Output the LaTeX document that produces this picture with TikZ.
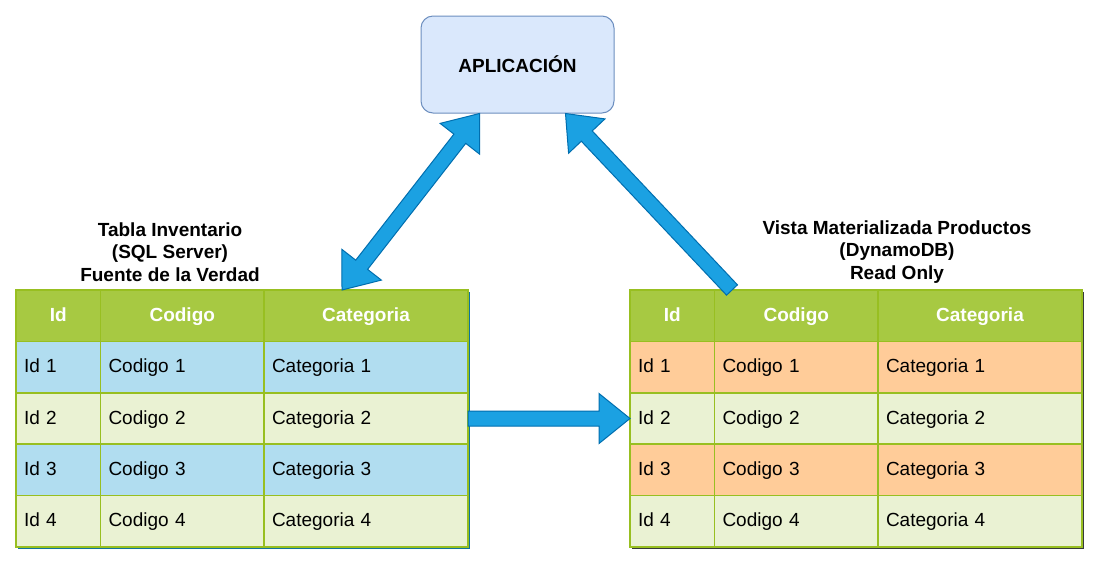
\documentclass[tikz,border=0pt]{standalone}
\usepackage{fontspec}
\setmainfont{Liberation Sans}
\usetikzlibrary{calc}
\definecolor{hdrgreen}{HTML}{A7C942}
\definecolor{brdgreen}{HTML}{98BF21}
\definecolor{lgreen}{HTML}{EAF2D3}
\definecolor{lblue}{HTML}{B1DDF0}
\definecolor{lorange}{HTML}{FFCC99}
\definecolor{shblue}{HTML}{10739E}
\definecolor{shgray}{HTML}{36393D}
\definecolor{appfill}{HTML}{DAE8FC}
\definecolor{appdraw}{HTML}{6C8EBF}
\definecolor{arrfill}{HTML}{1BA1E2}
\definecolor{arrdraw}{HTML}{006EAF}
\tikzset{
  txt/.style={font=\fontsize{19}{22.5}\selectfont},
  cellbox/.style={txt, rectangle, draw=brdgreen, line width=1.5pt, inner ysep=0pt, outer sep=0pt, anchor=north west, minimum height=51.4, text height=14pt, text depth=3pt},
  hdr/.style={cellbox, fill=hdrgreen, text=white, font=\fontsize{19}{22.5}\selectfont\bfseries, align=center, inner xsep=0pt},
  row/.style={cellbox, inner xsep=8pt, align=left},
  lbl/.style={font=\fontsize{19}{22.5}\selectfont\bfseries, align=center, inner sep=0pt},
  app/.style={txt, font=\fontsize{19}{22.5}\selectfont\bfseries, rectangle, rounded corners=12pt, fill=appfill, draw=appdraw, line width=1pt, minimum width=193, minimum height=97},
  barrow/.style={fill=arrfill, draw=arrdraw, line width=1pt, line join=miter},
}
% #1 prefix, #2 x0, #3 odd row colour, #4 shadow colour
\newcommand{\mkTable}[4]{%
  \fill[#4] ($(#2,290)+(2,2)$) rectangle ($(#2,547)+(454,2)$);
  \node[hdr, minimum width=84.5] (#1-h1) at (#2,290) {Id};
  \node[hdr, minimum width=163.5] (#1-h2) at ($(#2,290)+(84.5,0)$) {Codigo};
  \node[hdr, minimum width=204] (#1-h3) at ($(#2,290)+(248,0)$) {Categoria};
  \foreach \r/\c in {1/#3,2/lgreen,3/#3,4/lgreen}{
    \node[row, fill=\c, minimum width=84.5, text width=68.5] (#1-\r-1) at ($(#2,290)+(0,51.4*\r)$) {Id \r};
    \node[row, fill=\c, minimum width=163.5, text width=147.5] (#1-\r-2) at ($(#2,290)+(84.5,51.4*\r)$) {Codigo \r};
    \node[row, fill=\c, minimum width=204, text width=188] (#1-\r-3) at ($(#2,290)+(248,51.4*\r)$) {Categoria \r};
  }
}
% single block arrow: #1 tail, #2 tip, #3 id
\newcommand{\myArrow}[3]{%
  \coordinate (#3h) at ($(#2)!31pt!(#1)$);
  \draw[barrow] ($(#1)!7.5pt!90:(#2)$) -- ($(#3h)!7.5pt!90:(#2)$) -- ($(#3h)!25pt!90:(#2)$) -- (#2)
    -- ($(#3h)!25pt!-90:(#2)$) -- ($(#3h)!7.5pt!-90:(#2)$) -- ($(#1)!7.5pt!-90:(#2)$) -- cycle;
}
% double block arrow: #1 tip A, #2 tip B, #3 id
\newcommand{\myDArrow}[3]{%
  \coordinate (#3a) at ($(#1)!32pt!(#2)$);
  \coordinate (#3b) at ($(#2)!32pt!(#1)$);
  \draw[barrow] (#1) -- ($(#3a)!25pt!90:(#2)$) -- ($(#3a)!7.5pt!90:(#2)$) -- ($(#3b)!7.5pt!-90:(#1)$)
    -- ($(#3b)!25pt!-90:(#1)$) -- (#2) -- ($(#3b)!25pt!90:(#1)$) -- ($(#3b)!7.5pt!90:(#1)$)
    -- ($(#3a)!7.5pt!-90:(#2)$) -- ($(#3a)!25pt!-90:(#2)$) -- cycle;
}
\begin{document}
\begin{tikzpicture}[x=1pt,y=-1pt]
\useasboundingbox (0,0) rectangle (1100,566);
\fill[white] (0,0) rectangle (1100,566);

\node[app] (app) at (517.5,64.5) {APLICACIÓN};

\node[lbl] (lt) at (170,252) {Tabla Inventario\\(SQL Server)\\Fuente de la Verdad};
\node[lbl] (rt) at (897,252) {Vista Materializada Productos\\(DynamoDB)\\Read Only};

\mkTable{L}{16}{lblue}{shblue}
\mkTable{R}{630}{lorange}{shgray}

% connectors
\coordinate (dA) at ($(L-h3.north west)+(78,0)$);
\coordinate (dB) at ($(app.south west)+(59,0)$);
\myDArrow{dA}{dB}{d1}

\coordinate (rA) at ($(R-h2.north west)+(17.5,0)$);
\coordinate (rB) at ($(app.south east)+(-49,0)$);
\myArrow{rA}{rB}{r1}

\coordinate (hA) at (L-2-3.east);
\coordinate (hB) at (R-2-1.west);
\myArrow{hA}{hB}{h1}
\end{tikzpicture}
\end{document}
